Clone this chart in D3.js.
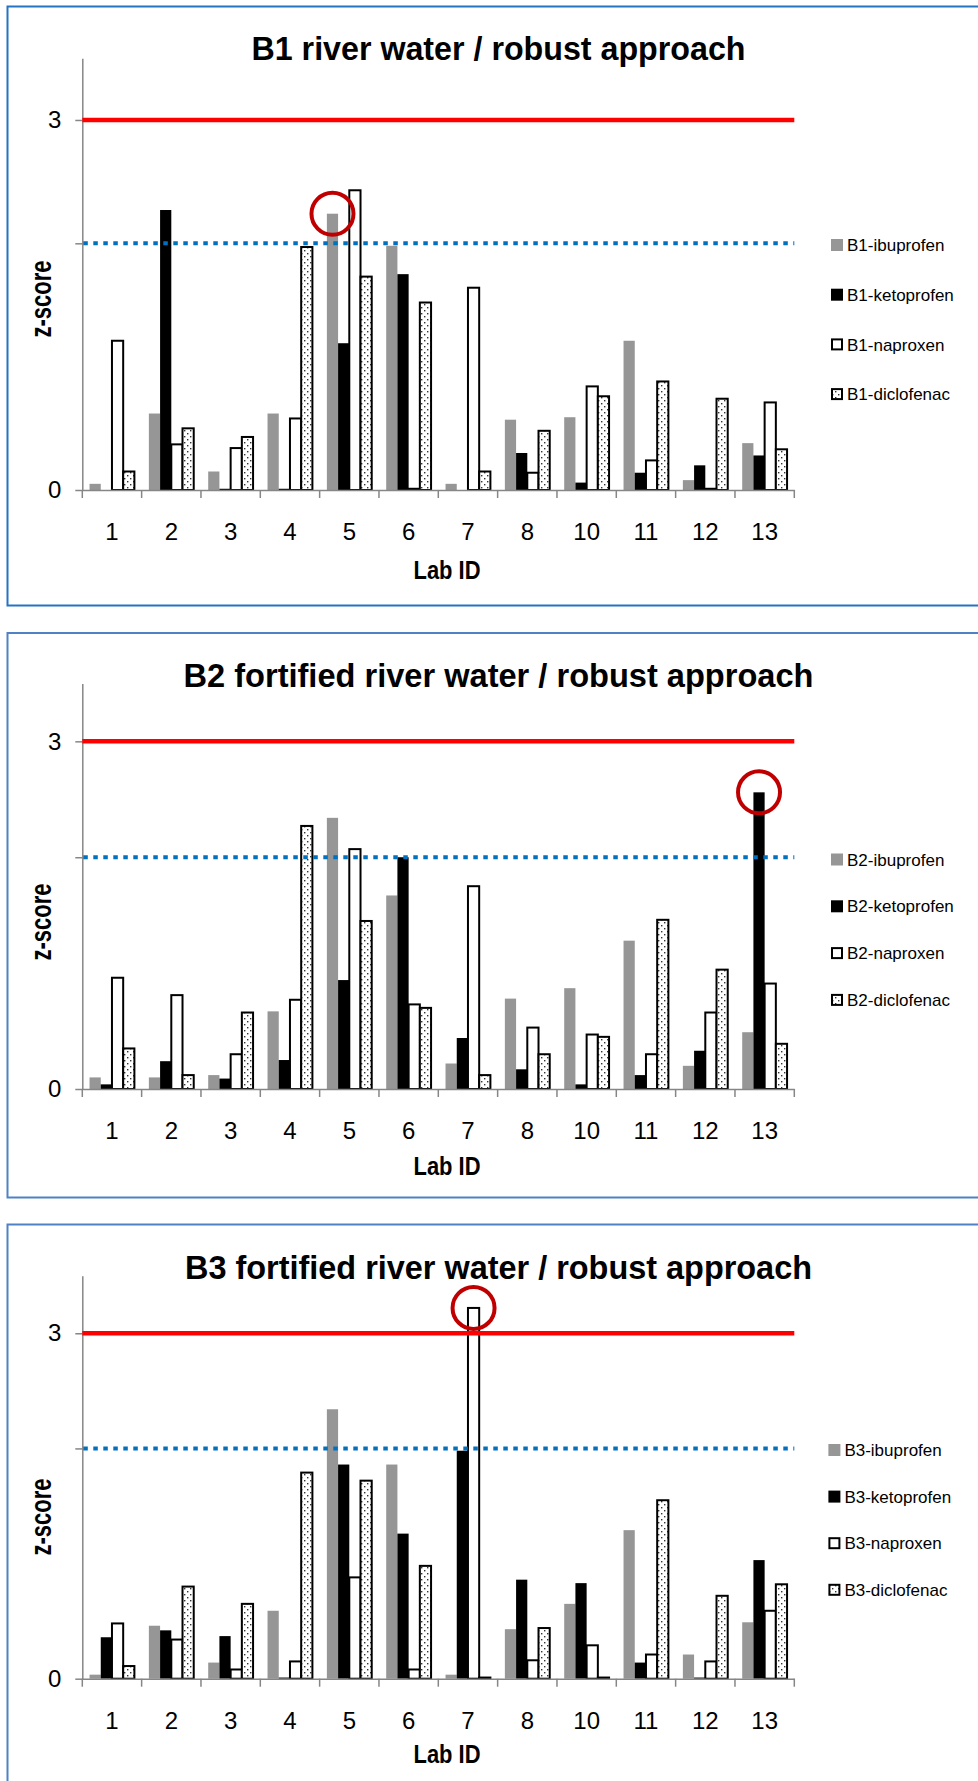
<!DOCTYPE html>
<html>
<head>
<meta charset="utf-8">
<script src="https://cdn.jsdelivr.net/npm/d3@7"></script>
<style>
  body { margin: 0; background: #fff; }
  svg { display: block; font-family: "Liberation Sans", Arial, sans-serif; }
</style>
</head>
<body>
<div id="chart"></div>
<script>
// x axis: lab IDs (no lab 9)
var labs = ["1", "2", "3", "4", "5", "6", "7", "8", "10", "11", "12", "13"];
var drugs = ["ibuprofen", "ketoprofen", "naproxen", "diclofenac"];
var yTicks = [0, 2, 3];
var warnLimit = 2;    // blue dotted line
var actionLimit = 3;  // red line

// B1 river water
var b1Ibuprofen  = [0.05, 0.62, 0.15, 0.62, 2.24, 1.98, 0.05, 0.57, 0.59, 1.21, 0.08, 0.38];
var b1Ketoprofen = [0,    2.27, 0.01, 0.01, 1.19, 1.75, 0,    0.30, 0.06, 0.14, 0.20, 0.28];
var b1Naproxen   = [1.21, 0.37, 0.34, 0.58, 2.43, 0.01, 1.64, 0.14, 0.84, 0.24, 0.01, 0.71];
var b1Diclofenac = [0.15, 0.50, 0.43, 1.97, 1.73, 1.52, 0.15, 0.48, 0.76, 0.88, 0.74, 0.33];

// B2 fortified river water
var b2Ibuprofen  = [0.10, 0.10, 0.12, 0.67, 2.34, 1.67, 0.22, 0.78, 0.87, 1.28, 0.20, 0.49];
var b2Ketoprofen = [0.04, 0.24, 0.09, 0.25, 0.94, 2.00, 0.44, 0.17, 0.04, 0.12, 0.33, 2.56];
var b2Naproxen   = [0.96, 0.81, 0.30, 0.77, 2.07, 0.73, 1.75, 0.53, 0.47, 0.30, 0.66, 0.91];
var b2Diclofenac = [0.35, 0.12, 0.66, 2.27, 1.45, 0.70, 0.12, 0.30, 0.45, 1.46, 1.03, 0.39];

// B3 fortified river water
var b3Ibuprofen  = [0.035, 0.46, 0.14, 0.59, 2.34, 1.86, 0.035, 0.43, 0.65, 1.29, 0.21, 0.49];
var b3Ketoprofen = [0.36,  0.42, 0.37, 0.01, 1.86, 1.26, 1.98,  0.86, 0.83, 0.14, 0.01, 1.03];
var b3Naproxen   = [0.48,  0.34, 0.08, 0.15, 0.88, 0.08, 3.22,  0.16, 0.29, 0.21, 0.15, 0.59];
var b3Diclofenac = [0.11,  0.80, 0.65, 1.79, 1.72, 0.98, 0.01,  0.44, 0.01, 1.55, 0.72, 0.82];

// circled results [lab, drug]
var highlights = [["5", "ibuprofen"], ["13", "ketoprofen"], ["7", "naproxen"]];

var panels = [
  { name: "B1", title: "B1 river water / robust approach",
    series: [b1Ibuprofen, b1Ketoprofen, b1Naproxen, b1Diclofenac], mark: highlights[0],
    frameTop: 6.5, frameBottom: 605.5, frameColor: "#2473c4",
    top: 58.3, bottom: 490, titleY: 60, titleLen: 494, labY: 578.5, zY: 299,
    legendX: 831, legendY: 245, legendStep: 49.7 },
  { name: "B2", title: "B2 fortified river water / robust approach",
    series: [b2Ibuprofen, b2Ketoprofen, b2Naproxen, b2Diclofenac], mark: highlights[1],
    frameTop: 633, frameBottom: 1197.5, frameColor: "#4f81c4",
    top: 683.4, bottom: 1089, titleY: 687.3, titleLen: 630, labY: 1175, zY: 922,
    legendX: 831, legendY: 859.5, legendStep: 46.8 },
  { name: "B3", title: "B3 fortified river water / robust approach",
    series: [b3Ibuprofen, b3Ketoprofen, b3Naproxen, b3Diclofenac], mark: highlights[2],
    frameTop: 1224.5, frameBottom: 1800, frameColor: "#4f81c4",
    top: 1275.7, bottom: 1678.7, titleY: 1279, titleLen: 627, labY: 1763, zY: 1517,
    legendX: 828.4, legendY: 1450, legendStep: 46.6 }
];

var W = 978, H = 1781;
var axisColor = "#868686";

var svg = d3.select("#chart").append("svg")
  .attr("width", W)
  .attr("height", H);

// dotted fill for diclofenac
var pat = svg.append("defs").append("pattern")
  .attr("id", "dots")
  .attr("patternUnits", "userSpaceOnUse")
  .attr("width", 6)
  .attr("height", 6);
pat.append("rect").attr("width", 6).attr("height", 6).attr("fill", "#fff");
pat.append("rect").attr("x", 1).attr("y", 1).attr("width", 1.4).attr("height", 1.4).attr("fill", "#333");
pat.append("rect").attr("x", 4).attr("y", 4).attr("width", 1.4).attr("height", 1.4).attr("fill", "#333");

var fills = { ibuprofen: "#969696", ketoprofen: "#000", naproxen: "#fff", diclofenac: "url(#dots)" };
var outlined = { naproxen: true, diclofenac: true };

var x0 = d3.scaleBand().domain(labs).range([82.3, 794.3]).padding(0);
var x1 = d3.scaleBand().domain(drugs)
  .range([x0.bandwidth() * 0.122, x0.bandwidth() * 0.878]);

panels.forEach(function(p) {
  var g = svg.append("g");
  var y = d3.scaleLinear().domain([0, 3.5]).range([p.bottom, p.top]);

  // frame
  g.append("rect")
    .attr("x", 7.5)
    .attr("y", p.frameTop)
    .attr("width", 1000)
    .attr("height", p.frameBottom - p.frameTop)
    .attr("fill", "none")
    .attr("stroke", p.frameColor)
    .attr("stroke-width", 2);

  // title
  g.append("text")
    .attr("x", 498.5)
    .attr("y", p.titleY)
    .attr("text-anchor", "middle")
    .attr("font-size", 34)
    .attr("font-weight", "bold")
    .attr("textLength", p.titleLen)
    .attr("lengthAdjust", "spacingAndGlyphs")
    .text(p.title);

  // bars
  var rows = [];
  labs.forEach(function(lab, i) {
    drugs.forEach(function(dr, j) {
      rows.push({ lab: lab, drug: dr, v: p.series[j][i] });
    });
  });
  g.selectAll(".bar")
    .data(rows)
    .enter()
    .append("rect")
      .attr("x", function(d) { return x0(d.lab) + x1(d.drug); })
      .attr("width", x1.bandwidth())
      .attr("y", function(d) { return y(d.v); })
      .attr("height", function(d) { return y(0) - y(d.v); })
      .attr("fill", function(d) { return fills[d.drug]; })
      .attr("stroke", function(d) { return outlined[d.drug] ? "#000" : "none"; })
      .attr("stroke-width", 2);

  // y axis
  var ya = g.append("g")
    .attr("transform", "translate(" + x0.range()[0] + ",0)")
    .call(d3.axisLeft(y).tickValues(yTicks).tickSize(7).tickSizeOuter(0).tickPadding(14)
      .tickFormat(function(d) { return d === warnLimit ? "" : d; }));
  ya.select(".domain").attr("stroke", axisColor).attr("stroke-width", 1.5);
  ya.selectAll(".tick line").attr("stroke", axisColor).attr("stroke-width", 1.5);
  ya.selectAll(".tick text")
    .attr("font-size", 24)
    .attr("font-family", "Liberation Sans, Arial, sans-serif")
    .attr("fill", "#000");

  // x axis, labels centred, ticks on category boundaries
  var xa = g.append("g")
    .attr("transform", "translate(0," + y(0) + ")")
    .call(d3.axisBottom(x0).tickSize(0).tickSizeOuter(0).tickPadding(33));
  xa.select(".domain").attr("stroke", axisColor).attr("stroke-width", 1.5);
  xa.selectAll(".tick text")
    .attr("font-size", 24)
    .attr("font-family", "Liberation Sans, Arial, sans-serif")
    .attr("fill", "#000");
  var edges = labs.map(function(l) { return x0(l); }).concat([x0.range()[1]]);
  xa.selectAll(".edge")
    .data(edges)
    .enter()
    .append("line")
      .attr("x1", function(d) { return d; })
      .attr("x2", function(d) { return d; })
      .attr("y1", 0)
      .attr("y2", 8)
      .attr("stroke", axisColor)
      .attr("stroke-width", 1.5);

  // limit lines
  g.append("line")
    .attr("x1", x0.range()[0]).attr("x2", x0.range()[1])
    .attr("y1", y(actionLimit)).attr("y2", y(actionLimit))
    .attr("stroke", "#ff0000")
    .attr("stroke-width", 4.5);
  g.append("line")
    .attr("x1", x0.range()[0] + 1).attr("x2", x0.range()[1])
    .attr("y1", y(warnLimit)).attr("y2", y(warnLimit))
    .attr("stroke", "#0070c0")
    .attr("stroke-width", 4)
    .attr("stroke-dasharray", "4.5,5.5");

  // circled result
  var i = labs.indexOf(p.mark[0]), j = drugs.indexOf(p.mark[1]);
  g.append("circle")
    .attr("cx", x0(p.mark[0]) + x1(p.mark[1]) + x1.bandwidth() / 2)
    .attr("cy", y(p.series[j][i]))
    .attr("r", 21)
    .attr("fill", "none")
    .attr("stroke", "#c00000")
    .attr("stroke-width", 4);

  // axis titles
  g.append("text")
    .attr("x", 447)
    .attr("y", p.labY)
    .attr("text-anchor", "middle")
    .attr("font-size", 25)
    .attr("font-weight", "bold")
    .attr("textLength", 67)
    .attr("lengthAdjust", "spacingAndGlyphs")
    .text("Lab ID");
  g.append("text")
    .attr("transform", "translate(50.5," + p.zY + ") rotate(-90)")
    .attr("text-anchor", "middle")
    .attr("font-size", 30)
    .attr("font-weight", "bold")
    .attr("textLength", 77)
    .attr("lengthAdjust", "spacingAndGlyphs")
    .text("z-score");

  // legend
  drugs.forEach(function(dr, k) {
    var ly = p.legendY + k * p.legendStep;
    var s = outlined[dr] ? 10 : 12;
    g.append("rect")
      .attr("x", p.legendX + 6 - s / 2)
      .attr("y", ly - s / 2)
      .attr("width", s)
      .attr("height", s)
      .attr("fill", fills[dr])
      .attr("stroke", outlined[dr] ? "#000" : "none")
      .attr("stroke-width", 2);
    g.append("text")
      .attr("x", p.legendX + 16)
      .attr("y", ly)
      .attr("dy", "0.36em")
      .attr("font-size", 17)
      .text(p.name + "-" + dr);
  });
});
</script>
</body>
</html>
